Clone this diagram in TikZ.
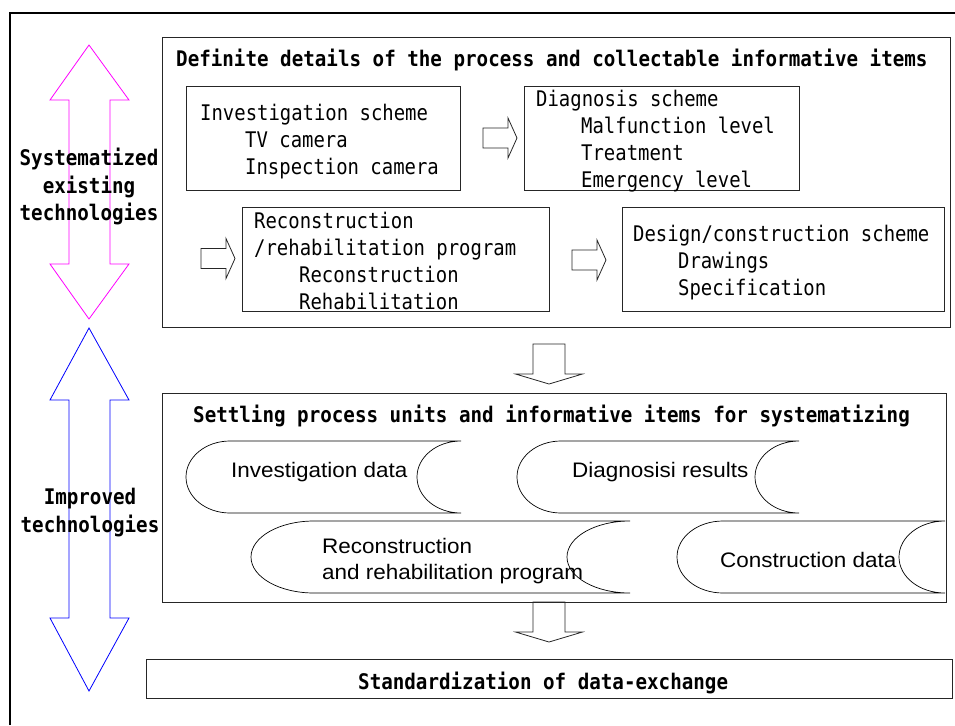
\documentclass[tikz,border=0pt]{standalone}
\usepackage{fontspec}
\setmainfont{Liberation Sans}
\newfontfamily\gul[FakeStretch=0.88,BoldFeatures={FakeStretch=0.893}]{DejaVu Sans Mono}
\newfontfamily\arl[FakeStretch=1.07]{Liberation Sans}
\usetikzlibrary{positioning}
\definecolor{mag}{RGB}{255,0,255}
\definecolor{blu}{RGB}{0,0,255}

\tikzset{
  box/.style={draw=black!85,line width=0.9pt,inner sep=0pt,anchor=north west},
  mono/.style={font=\gul\fontsize{21.5}{27}\selectfont,inner sep=0pt,align=left,anchor=base west},
  head/.style={font=\gul\bfseries\fontsize{21.5}{27.3}\selectfont,inner sep=0pt},
  sans/.style={font=\arl\fontsize{21}{26}\selectfont,inner sep=0pt,align=left,anchor=base west},
  hollow/.style={draw=black!85,line width=0.8pt},
  tape/.style={draw=black,line width=0.7pt}
}

% x of tail, y of centre
\newcommand{\rightblock}[2]{%
  \draw[hollow] (#1,#2-10) -- (#1+25,#2-10) -- (#1+25,#2-20) -- (#1+34,#2)
    -- (#1+25,#2+20) -- (#1+25,#2+10) -- (#1,#2+10) -- cycle;}
% x of centre, y of tail, y of shaft end
\newcommand{\downblock}[3]{%
  \draw[hollow] (#1-16,#2) -- (#1+16,#2) -- (#1+16,#3) -- (#1+33.5,#3) -- (#1,#3+10)
    -- (#1-33.5,#3) -- (#1-16,#3) -- cycle;}
% left x, right x, middle y, depth of the ends
\newcommand{\datatape}[4]{%
  \draw[tape] (#1+#4,#3-36) -- (#2,#3-36)
    .. controls (#2-0.552*#4,#3-36) and (#2-#4,#3-20) .. (#2-#4,#3)
    .. controls (#2-#4,#3+20) and (#2-0.552*#4,#3+36) .. (#2,#3+36)
    -- (#1+#4,#3+36)
    .. controls (#1+0.448*#4,#3+36) and (#1,#3+20) .. (#1,#3)
    .. controls (#1,#3-20) and (#1+0.448*#4,#3-36) .. (#1+#4,#3-36) -- cycle;}

\begin{document}
\begin{tikzpicture}[x=1pt,y=-1pt]
\useasboundingbox (0,0) rectangle (955,725);
\draw[line width=1.2pt] (10,725) -- (10,13) -- (955,13);

%the two double arrows on the left
\draw[mag,line width=0.8pt] (89,45) -- (129,100) -- (110,100) -- (110,264) -- (129,264)
  -- (89,319) -- (50,264) -- (69,264) -- (69,100) -- (50,100) -- cycle;
\draw[blu,line width=0.8pt] (89,328) -- (129,400) -- (110,400) -- (110,618) -- (129,618)
  -- (89,691) -- (50,618) -- (69,618) -- (69,400) -- (50,400) -- cycle;
\node[head,align=center,anchor=base] (systxt) at (89,220.3) {Systematized\\existing\\technologies};
\node[head,align=center,anchor=base] (imptxt) at (90,532) {Improved\\technologies};

\node[box,minimum width=788pt,minimum height=290pt] (detail) at (162,37) {};
\node[head,anchor=base west] (detailtxt) at (176,66.5)
  {Definite details of the process and collectable informative items};

\node[box,minimum width=274pt,minimum height=104pt] (inv) at (186,86) {};
\node[mono] (invtxt) at (200,174.7)
  {Investigation scheme\\\hspace*{45pt}TV camera\\\hspace*{45pt}Inspection camera};
\node[box,minimum width=275pt,minimum height=104pt] (diag) at (524,86) {};
\node[mono] (diagtxt) at (536,187.7)
  {Diagnosis scheme\\\hspace*{45pt}Malfunction level\\\hspace*{45pt}Treatment\\\hspace*{45pt}Emergency level};
\node[box,minimum width=307pt,minimum height=104pt] (recon) at (242,207) {};
\node[mono] (recontxt) at (254,309.3)
  {Reconstruction\\/rehabilitation program\\\hspace*{45pt}Reconstruction\\\hspace*{45pt}Rehabilitation};
\node[box,minimum width=322pt,minimum height=104pt] (design) at (622,207) {};
\node[mono] (designtxt) at (633,295.7)
  {Design/construction scheme\\\hspace*{45pt}Drawings\\\hspace*{45pt}Specification};

\rightblock{483}{138}
\rightblock{201}{258.5}
\rightblock{572}{260}
\downblock{549}{344}{374}

\node[box,minimum width=784pt,minimum height=209pt] (settle) at (162,393) {};
\node[head,anchor=base west] (settletxt) at (193,422)
  {Settling process units and informative items for systematizing};

\datatape{186}{461}{477}{44}
\node[sans] (invdata) at (231,477.3) {Investigation data};
\datatape{517}{799}{477}{44}
\node[sans] (diagdata) at (572,477.3) {Diagnosisi results};
\datatape{251}{630}{557}{63}
\node[sans] (recondata) at (322,579.3) {Reconstruction\\and rehabilitation program};
\datatape{677}{945}{557}{46}
\node[sans] (constdata) at (720,567) {Construction data};

\downblock{549}{602}{632}

\node[box,minimum width=806pt,minimum height=39pt] (std) at (146,659) {};
\node[head,anchor=base west] (stdtxt) at (358,689) {Standardization of data-exchange};
\end{tikzpicture}
\end{document}
